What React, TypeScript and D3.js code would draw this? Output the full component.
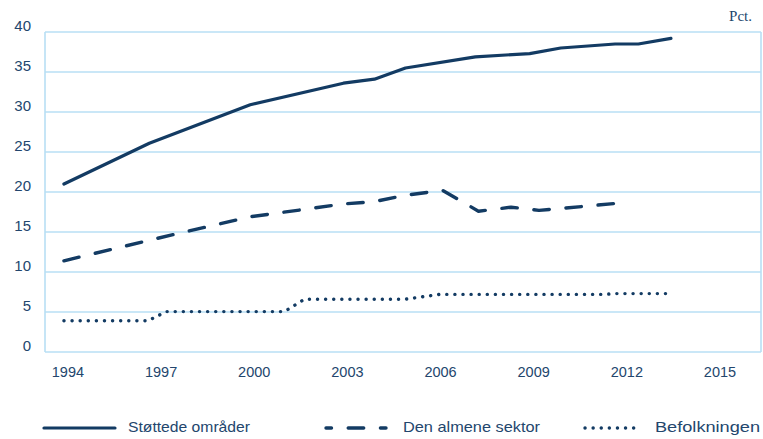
import React from "react";
import * as d3 from "d3";

const yTicks = [0, 5, 10, 15, 20, 25, 30, 35, 40];
const xTicks = [1994, 1997, 2000, 2003, 2006, 2009, 2012, 2015];

const stoetteYears = [1994, 1996.75, 2000, 2003, 2004, 2005, 2007.25, 2009, 2010, 2011.75, 2012.5, 2013.55];
const stoetteValues = [21.0, 26.1, 30.9, 33.6, 34.1, 35.5, 36.9, 37.3, 38.0, 38.5, 38.5, 39.2];

const almeneYears = [1994, 1997, 2000, 2003, 2004, 2005, 2006.2, 2007.35, 2008.4, 2009.3, 2012.15];
const almeneValues = [11.4, 14.2, 16.9, 18.5, 18.8, 19.6, 20.2, 17.6, 18.1, 17.7, 18.7];

const befolkYears = [1994, 1996.7, 1997.3, 2001.1, 2001.75, 2005, 2006.1, 2011.4, 2011.75, 2013.5];
const befolkValues = [3.9, 3.9, 5.05, 5.05, 6.6, 6.6, 7.2, 7.2, 7.3, 7.3];

const seriesNames = ["Støttede områder", "Den almene sektor", "Befolkningen"];

const W = 763;
const H = 439;
const left = 45;
const right = 761;
const top = 32;
const bottom = 352;

const lineColor = "#133b63";
const gridColor = "#b8dff4";
const textColor = "#23466d";

const styles = [
  { dash: undefined as string | undefined, width: 3.2 },
  { dash: "15.5 16.7", width: 3.4 },
  { dash: "0.1 8", width: 3.4 },
];

export default function App() {
  const x = d3.scaleLinear().domain([1993.39, 2016.45]).range([left, right]);
  const y = d3.scaleLinear().domain([0, 40]).range([bottom, top]);
  const line = d3
    .line<[number, number]>()
    .x((d) => x(d[0]))
    .y((d) => y(d[1]))
    .curve(d3.curveLinear);

  const series = [
    stoetteYears.map((yr, i) => [yr, stoetteValues[i]] as [number, number]),
    almeneYears.map((yr, i) => [yr, almeneValues[i]] as [number, number]),
    befolkYears.map((yr, i) => [yr, befolkValues[i]] as [number, number]),
  ];

  const legendX = [
    { x1: 44, x2: 115, tx: 128, tl: 122, offset: 0 },
    { x1: 326, x2: 386, tx: 403, tl: 137, offset: 10 },
    { x1: 585, x2: 637, tx: 655, tl: 105, offset: 0 },
  ];
  const legendY = 428;
  const font = "'Liberation Sans', Arial, sans-serif";

  return (
    <svg
      width={W}
      height={H}
      style={{ position: "absolute", left: 0, top: 0, background: "#fff" }}
    >
      {yTicks.map((t) => (
        <line
          key={"g" + t}
          x1={left}
          x2={right}
          y1={y(t)}
          y2={y(t)}
          stroke={gridColor}
          strokeWidth={1.6}
        />
      ))}
      <line x1={left} x2={left} y1={top} y2={bottom} stroke={gridColor} strokeWidth={1.6} />
      <line x1={right} x2={right} y1={top} y2={bottom} stroke={gridColor} strokeWidth={1.6} />

      {yTicks.map((t) => (
        <text
          key={"yl" + t}
          x={31}
          y={y(t) - 5}
          textAnchor="end"
          dominantBaseline="middle"
          fontFamily={font}
          fontSize={15}
          fill={textColor}
        >
          {t}
        </text>
      ))}
      {xTicks.map((t) => (
        <text
          key={"xl" + t}
          x={x(t) + 4}
          y={377}
          textAnchor="middle"
          fontFamily={font}
          fontSize={14.5}
          fill={textColor}
        >
          {t}
        </text>
      ))}
      <text
        x={752}
        y={21}
        textAnchor="end"
        fontFamily="'Liberation Serif', 'Times New Roman', serif"
        fontSize={15}
        fill={textColor}
      >
        Pct.
      </text>

      {series.map((s, i) => (
        <path
          key={"s" + i}
          d={line(s) || ""}
          fill="none"
          stroke={lineColor}
          strokeWidth={styles[i].width}
          strokeDasharray={styles[i].dash}
          strokeLinecap="round"
          strokeLinejoin="round"
        />
      ))}

      {seriesNames.map((name, i) => (
        <g key={"lg" + i}>
          <line
            x1={legendX[i].x1}
            x2={legendX[i].x2}
            y1={legendY}
            y2={legendY}
            stroke={lineColor}
            strokeWidth={styles[i].width}
            strokeDasharray={styles[i].dash}
            strokeDashoffset={legendX[i].offset}
            strokeLinecap="round"
          />
          <text
            x={legendX[i].tx}
            y={legendY}
            dominantBaseline="middle"
            fontFamily={font}
            fontSize={15}
            textLength={legendX[i].tl}
            lengthAdjust="spacingAndGlyphs"
            fill={textColor}
          >
            {name}
          </text>
        </g>
      ))}
    </svg>
  );
}
